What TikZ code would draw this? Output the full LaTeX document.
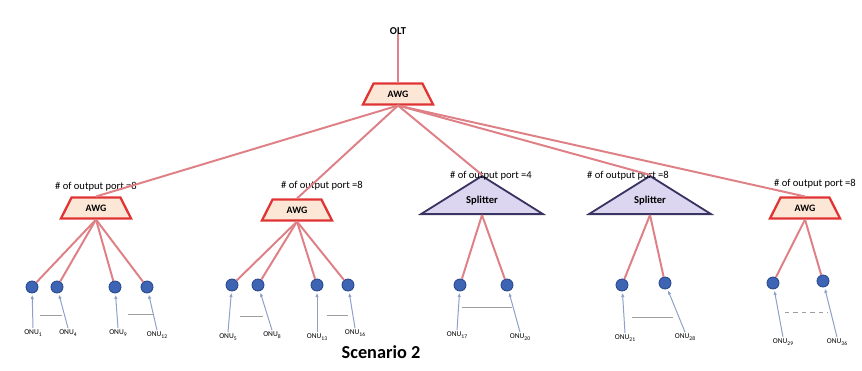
\documentclass[tikz,border=0pt]{standalone}
\usepackage{fontspec}
\setmainfont{Carlito}
\usetikzlibrary{shapes.geometric, arrows.meta, positioning, calc}
\definecolor{awgred}{RGB}{224,52,52}
\definecolor{awgfill}{RGB}{252,230,214}
\definecolor{fibrecol}{RGB}{222,128,134}
\definecolor{splitfill}{RGB}{221,214,240}
\definecolor{splitdraw}{RGB}{58,52,98}
\definecolor{onublue}{RGB}{62,100,180}
\definecolor{onuedge}{RGB}{40,70,140}
\definecolor{arrowcol}{RGB}{140,160,200}
\newcommand{\onuname}[1]{ONU\raisebox{-0.45ex}{\fontsize{4}{4}\selectfont #1}}

\begin{document}
\begin{tikzpicture}[x=0.025cm, y=-0.025cm,
          awgbox/.style={trapezium, trapezium stretches=true, trapezium angle=56, draw=awgred, fill=awgfill, line width=1.6pt, minimum width=1.75cm, minimum height=0.52cm, inner sep=0pt, font=\fontsize{7}{8}\selectfont\bfseries},
          splitbox/.style={isosceles triangle, shape border rotate=90, isosceles triangle apex angle=116, draw=splitdraw, fill=splitfill, line width=1.3pt, minimum width=3.05cm, minimum height=0.92cm, inner sep=0pt, font=\fontsize{7.5}{9}\selectfont\bfseries},
          onu/.style={circle, draw=onuedge, fill=onublue, line width=0.6pt, minimum size=0.3cm, inner sep=0pt},
          onulabel/.style={font=\fontsize{5.3}{6}\selectfont, inner sep=1pt},
          portlabel/.style={font=\fontsize{7.5}{9}\selectfont, inner sep=0pt},
          fibre/.style={draw=fibrecol, line width=1.4pt},
          uparrow/.style={-{Latex[length=3pt,width=2.5pt]}, draw=arrowcol, line width=0.7pt, shorten >=1pt},
          gapline/.style={draw=gray!75, line width=0.6pt}]

        \useasboundingbox (0,0) rectangle (862,370);

        % splitting stages
        \node [awgbox] (awg0) at (398,94) {AWG};
        \node [portlabel, above=1.2cm of awg0] (olt) {\bfseries OLT};
        \node [awgbox] (awg1) at (96,208) {AWG};
        \node [awgbox] (awg2) at (297,210) {AWG};
        \node [splitbox, anchor=lower side] (sp3) at (482,215) {\raisebox{-0.2cm}{Splitter}};
        \node [splitbox, anchor=lower side] (sp4) at (650,215) {\raisebox{-0.2cm}{Splitter}};
        \node [awgbox] (awg5) at (805,208) {AWG};

        \node [portlabel] (port1) at (96,187) {\# of output port =8};
        \node [portlabel] (port2) at (322,186) {\# of output port =8};
        \node [portlabel] (port3) at (491,176) {\# of output port =4};
        \node [portlabel] (port4) at (628,176) {\# of output port =8};
        \node [portlabel] (port5) at (815,184) {\# of output port =8};

        % ONUs
        \node [onu] (o1) at (32,287) {};
        \node [onu] (o4) at (57,287) {};
        \node [onu] (o9) at (115,287) {};
        \node [onu] (o12) at (147,287) {};
        \node [onu] (o5) at (232,285) {};
        \node [onu] (o8) at (258,285) {};
        \node [onu] (o13) at (317,285) {};
        \node [onu] (o16) at (348,285) {};
        \node [onu] (o17) at (460,285) {};
        \node [onu] (o20) at (507,285) {};
        \node [onu] (o21) at (622,285) {};
        \node [onu] (o28) at (665,283) {};
        \node [onu] (o29) at (773,283) {};
        \node [onu] (o36) at (823,281) {};

        \node [onulabel] (l1) at (33,333) {\onuname{1}};
        \node [onulabel] (l4) at (68,333) {\onuname{4}};
        \node [onulabel] (l9) at (118,333) {\onuname{9}};
        \node [onulabel] (l12) at (157,335) {\onuname{12}};
        \node [onulabel] (l5) at (228,337) {\onuname{5}};
        \node [onulabel] (l8) at (272,335) {\onuname{8}};
        \node [onulabel] (l13) at (317,337) {\onuname{13}};
        \node [onulabel] (l16) at (355,333) {\onuname{16}};
        \node [onulabel] (l17) at (457,335) {\onuname{17}};
        \node [onulabel] (l20) at (520,337) {\onuname{20}};
        \node [onulabel] (l21) at (625,338) {\onuname{21}};
        \node [onulabel] (l28) at (685,337) {\onuname{28}};
        \node [onulabel] (l29) at (783,342) {\onuname{29}};
        \node [onulabel] (l36) at (837,342) {\onuname{36}};

        \node [font=\fontsize{13}{15}\selectfont\bfseries] (scen) at (381,352) {Scenario 2};

        % fibres
        \draw [fibre] (olt) -- (awg0.north);
        \draw [fibre] (awg0.south) -- (awg1.north);
        \draw [fibre] (awg0.south) -- (awg2.north);
        \draw [fibre] (awg0.south) -- (sp3.apex);
        \draw [fibre] (awg0.south) -- (sp4.apex);
        \draw [fibre] (awg0.south) -- (awg5.north);

        \draw [fibre] (awg1.south) -- (o1);
        \draw [fibre] (awg1.south) -- (o4);
        \draw [fibre] (awg1.south) -- (o9);
        \draw [fibre] (awg1.south) -- (o12);
        \draw [fibre] (awg2.south) -- (o5);
        \draw [fibre] (awg2.south) -- (o8);
        \draw [fibre] (awg2.south) -- (o13);
        \draw [fibre] (awg2.south) -- (o16);
        \draw [fibre] (sp3.lower side) -- (o17);
        \draw [fibre] (sp3.lower side) -- (o20);
        \draw [fibre] (sp4.lower side) -- (o21);
        \draw [fibre] (sp4.lower side) -- (o28);
        \draw [fibre] (awg5.south) -- (o29);
        \draw [fibre] (awg5.south) -- (o36);

        % ONU upstream arrows
        \draw [uparrow] (l1.north) -- (o1);
        \draw [uparrow] (l4.north) -- (o4);
        \draw [uparrow] (l9.north) -- (o9);
        \draw [uparrow] (l12.north) -- (o12);
        \draw [uparrow] (l5.north) -- (o5);
        \draw [uparrow] (l8.north) -- (o8);
        \draw [uparrow] (l13.north) -- (o13);
        \draw [uparrow] (l16.north) -- (o16);
        \draw [uparrow] (l17.north) -- (o17);
        \draw [uparrow] (l20.north) -- (o20);
        \draw [uparrow] (l21.north) -- (o21);
        \draw [uparrow] (l28.north) -- (o28);
        \draw [uparrow] (l29.north) -- (o29);
        \draw [uparrow] (l36.north) -- (o36);

        % gaps between shown ONUs
        \coordinate (g1a) at (40,315);  \coordinate (g1b) at (62,315);
        \coordinate (g2a) at (128,314); \coordinate (g2b) at (153,314);
        \coordinate (g3a) at (240,316); \coordinate (g3b) at (263,316);
        \coordinate (g4a) at (327,315); \coordinate (g4b) at (348,315);
        \coordinate (g5a) at (462,307); \coordinate (g5b) at (512,307);
        \coordinate (g6a) at (632,317); \coordinate (g6b) at (673,317);
        \coordinate (g7a) at (785,312); \coordinate (g7b) at (828,312);
        \draw [gapline] (g1a) -- (g1b);
        \draw [gapline] (g2a) -- (g2b);
        \draw [gapline] (g3a) -- (g3b);
        \draw [gapline] (g4a) -- (g4b);
        \draw [gapline] (g5a) -- (g5b);
        \draw [gapline] (g6a) -- (g6b);
        \draw [gapline, dashed] (g7a) -- (g7b);
      \end{tikzpicture}
\end{document}
